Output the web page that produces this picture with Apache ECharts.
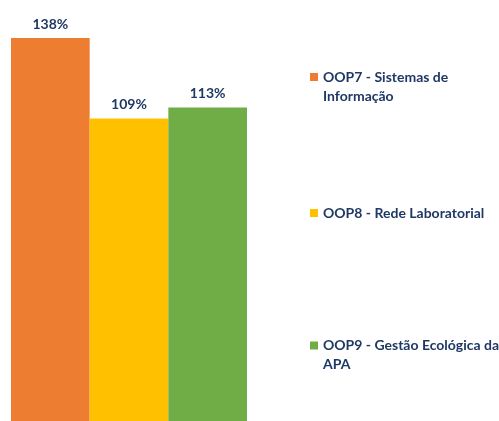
<!DOCTYPE html>
<html>
<head>
<meta charset="utf-8">
<script src="https://cdn.jsdelivr.net/npm/echarts@6/dist/echarts.min.js"></script>
<style>html,body{margin:0;padding:0;background:#fff}#c{width:499px;height:421px}</style>
</head>
<body>
<div id="c"></div>
<script>
var categories = ['OOP7 - Sistemas de Informação', 'OOP8 - Rede Laboratorial', 'OOP9 - Gestão Ecológica da APA'];
var legendLabels = ['OOP7 - Sistemas de\nInformação', 'OOP8 - Rede Laboratorial', 'OOP9 - Gestão Ecológica da\nAPA'];
var values = [138, 109, 113];
var colors = ['#ED7D31', '#FFC000', '#70AD47'];

var navy = '#1F3864';
var font = 'Lato';
var series = categories.map(function (name, i) {
  return {
    name: name,
    type: 'bar',
    data: [values[i]],
    barGap: '0%',
    barCategoryGap: '0%',
    itemStyle: { color: colors[i] },
    label: {
      show: true, position: 'top', distance: 7,
      formatter: '{c}%', color: navy, fontWeight: 'bold', fontSize: 14, fontFamily: font
    }
  };
});
var legendTops = [43.5, 198.5, 312];
var legends = categories.map(function (name, i) {
  var wrapped = legendLabels[i].indexOf('\n') >= 0;
  return {
    data: [name],
    left: 305, top: legendTops[i],
    orient: 'vertical',
    itemWidth: 8, itemHeight: 8,
    icon: 'rect',
    formatter: function () { return (wrapped ? '\n' : '') + legendLabels[i]; },
    textStyle: { color: navy, fontWeight: 'bold', fontSize: 14, fontFamily: font, lineHeight: 19 },
    selectedMode: false
  };
});
var chart = echarts.init(document.getElementById('c'));
chart.setOption({
  animation: false,
  grid: { left: 11, width: 236, top: 38, bottom: 0 },
  xAxis: { type: 'category', data: [''], show: false },
  yAxis: { type: 'value', min: 0, max: 138, show: false },
  legend: legends,
  series: series
});
</script>
</body>
</html>
